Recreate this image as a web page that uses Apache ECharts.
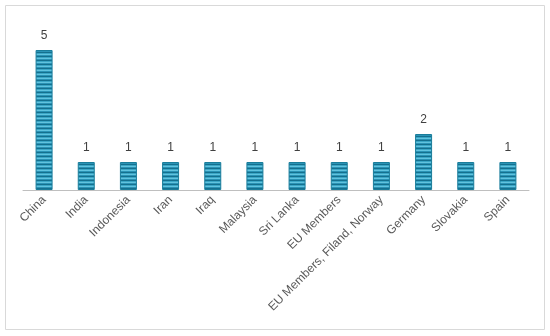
<!DOCTYPE html>
<html><head><meta charset="utf-8">
<script src="https://cdn.jsdelivr.net/npm/echarts@6/dist/echarts.min.js"></script>
<style>html,body{margin:0;padding:0;background:#fff}#c{width:550px;height:336px}</style>
</head><body><div id="c"></div>
<script>
const categories = ['China','India','Indonesia','Iran','Iraq','Malaysia','Sri Lanka','EU Members','EU Members, Filand, Norway','Germany','Slovakia','Spain'];
const values = [5,1,1,1,1,1,1,1,1,2,1,1];

const pat = document.createElement('canvas');
pat.width = 4; pat.height = 4;
const g = pat.getContext('2d');
const rows = ['#15708e','#3aa6c6','#62c3de','#2a93b5'];
rows.forEach((c,i)=>{g.fillStyle=c;g.fillRect(0,i,4,1);});

const chart = echarts.init(document.getElementById('c'));
chart.setOption({
  animation:false,
  graphic:[{type:'rect',shape:{x:5.5,y:5.5,width:539,height:324},style:{fill:'none',stroke:'#d9d9d9',lineWidth:1},silent:true}],
  grid:{left:23,right:21,top:22,bottom:146,containLabel:false},
  xAxis:{type:'category',data:categories,
    axisLine:{lineStyle:{color:'#bfbfbf',width:1}},
    axisTick:{show:false},
    axisLabel:{rotate:45,interval:0,color:'#595959',fontSize:12,fontFamily:'Liberation Sans, Arial, sans-serif',margin:8}},
  yAxis:{type:'value',min:0,max:6,show:false,splitLine:{show:false}},
  series:[{type:'bar',data:values,barWidth:17,
    itemStyle:{color:{image:pat,repeat:'repeat'},borderColor:'#1a7d9b',borderWidth:1},
    label:{show:true,position:'top',color:'#404040',fontSize:12,fontFamily:'Liberation Sans, Arial, sans-serif',distance:8}}]
});
</script></body></html>
